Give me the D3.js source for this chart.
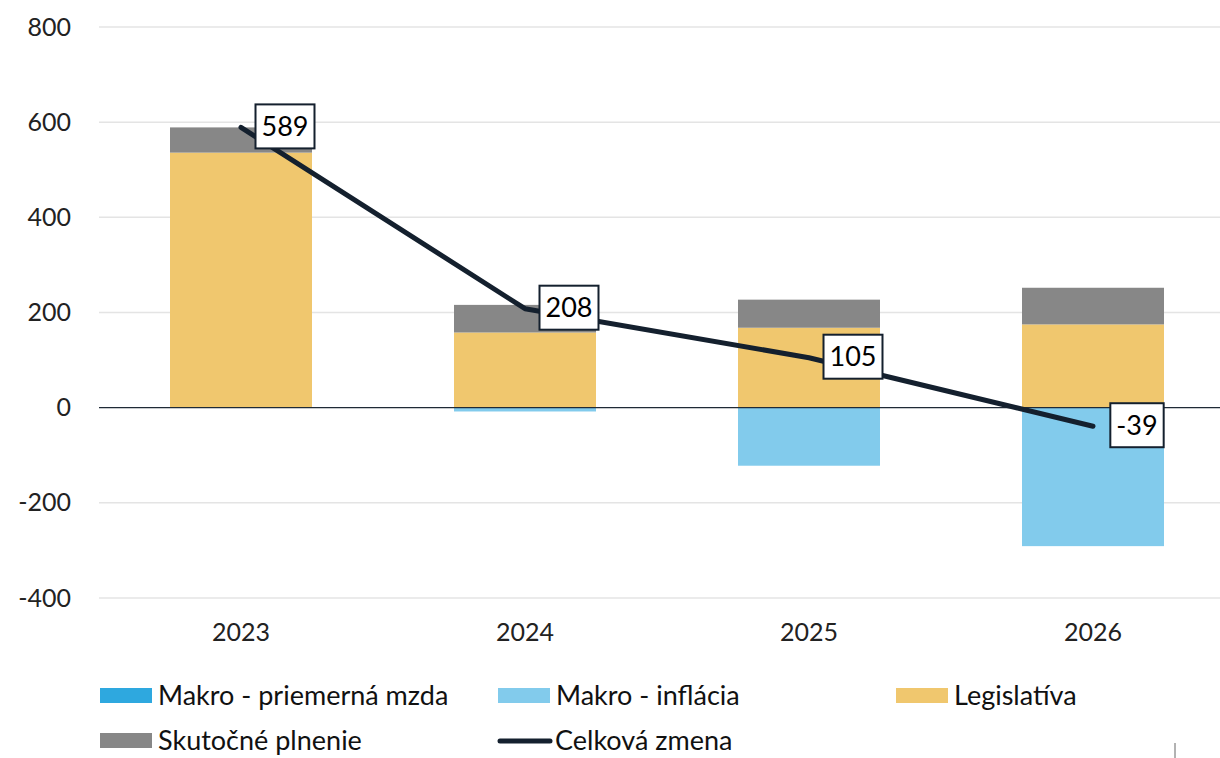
<!DOCTYPE html>
<html>
<head>
<meta charset="utf-8">
<script src="https://cdn.jsdelivr.net/npm/d3@7"></script>
<style>
  html, body { margin: 0; padding: 0; background: #fff; }
  svg { display: block; font-family: Lato, "Open Sans", sans-serif; }
</style>
</head>
<body>
<svg id="chart" width="1220" height="758"></svg>
<script>
// Categories and series
const years = ["2023", "2024", "2025", "2026"];
const makroMzda = [0, 0, 0, 0];
const makroInflacia = [0, -8, -122, -291];
const legislativa = [536, 158, 168, 175];
const skutocnePlnenie = [53, 58, 59, 77];
const celkovaZmena = [589, 208, 105, -39];
const yTicks = [-400, -200, 0, 200, 400, 600, 800];

const seriesKeys = ["Makro - priemerná mzda", "Makro - inflácia", "Legislatíva", "Skutočné plnenie"];
const seriesColors = ["#2EA8DF", "#82CBEC", "#F0C76E", "#878787"];
const lineLabel = "Celková zmena";
const lineColor = "#14202E";

const rows = years.map((y, i) => ({
  year: y,
  [seriesKeys[0]]: makroMzda[i],
  [seriesKeys[1]]: makroInflacia[i],
  [seriesKeys[2]]: legislativa[i],
  [seriesKeys[3]]: skutocnePlnenie[i]
}));

const svg = d3.select("#chart");
const plotLeft = 99, plotRight = 1220;

const x = d3.scaleBand().domain(years).range([99, 1235]).paddingInner(0.5).paddingOuter(0.25);
const y = d3.scaleLinear().domain([-400, 800]).range([598, 27]);

// Gridlines
svg.append("g").selectAll("line")
  .data(yTicks.filter(t => t !== 0))
  .join("line")
  .attr("x1", plotLeft).attr("x2", plotRight)
  .attr("y1", d => y(d)).attr("y2", d => y(d))
  .attr("stroke", "#E4E4E4").attr("stroke-width", 1.5);

// Y axis labels
const yAxis = d3.axisLeft(y).tickValues(yTicks).tickSize(0).tickPadding(0).tickFormat(d => String(d));
const yg = svg.append("g").attr("transform", "translate(71,0)").call(yAxis);
yg.select(".domain").remove();
yg.selectAll("text").attr("font-size", 25).attr("fill", "#222").attr("font-family", "Lato, sans-serif");

// Stacked bars
const stack = d3.stack().keys(seriesKeys).offset(d3.stackOffsetDiverging);
const stacked = stack(rows);
svg.append("g").selectAll("g")
  .data(stacked)
  .join("g")
  .attr("fill", (d, i) => seriesColors[i])
  .selectAll("rect")
  .data(d => d)
  .join("rect")
  .attr("x", d => x(d.data.year))
  .attr("width", x.bandwidth())
  .attr("y", d => y(Math.max(d[0], d[1])))
  .attr("height", d => Math.abs(y(d[0]) - y(d[1])));

// Zero line
svg.append("line")
  .attr("x1", plotLeft).attr("x2", plotRight)
  .attr("y1", y(0)).attr("y2", y(0))
  .attr("stroke", "#1F2A36").attr("stroke-width", 1.3);

// X axis labels
const xAxis = d3.axisBottom(x).tickSize(0).tickPadding(0);
const xg = svg.append("g").attr("transform", "translate(0,623)").call(xAxis);
xg.select(".domain").remove();
xg.selectAll("text").attr("font-size", 25).attr("fill", "#222").attr("font-family", "Lato, sans-serif");

// Total change line
const cx = d => x(d) + x.bandwidth() / 2;
const linePts = years.map((yr, i) => [cx(yr), y(celkovaZmena[i])]);
svg.append("path")
  .attr("d", d3.line()(linePts))
  .attr("fill", "none")
  .attr("stroke", lineColor)
  .attr("stroke-width", 5)
  .attr("stroke-linecap", "round")
  .attr("stroke-linejoin", "round");

// Value labels in boxes
const lbl = svg.append("g").selectAll("g")
  .data(linePts.map((p, i) => ({ p, v: celkovaZmena[i] })))
  .join("g")
  .attr("transform", d => `translate(${d.p[0] + 44},${d.p[1] - 1})`);
const boxes = lbl.append("rect")
  .attr("y", -22).attr("height", 44)
  .attr("fill", "#fff").attr("stroke", lineColor).attr("stroke-width", 2);
const texts = lbl.append("text")
  .attr("text-anchor", "middle").attr("dy", "0.36em")
  .attr("font-size", 27).attr("fill", "#000")
  .text(d => String(d.v));
texts.each(function (d) { d.w = this.getComputedTextLength(); });
boxes.attr("x", d => -(d.w / 2 + 6)).attr("width", d => d.w + 12);

// Legend
const legendItems = [
  { label: seriesKeys[0], color: seriesColors[0], type: "rect", lx: 100, ly: 696 },
  { label: seriesKeys[1], color: seriesColors[1], type: "rect", lx: 498, ly: 696 },
  { label: seriesKeys[2], color: seriesColors[2], type: "rect", lx: 896, ly: 696 },
  { label: seriesKeys[3], color: seriesColors[3], type: "rect", lx: 100, ly: 741 },
  { label: lineLabel, color: lineColor, type: "line", lx: 498, ly: 741 }
];
const lg = svg.append("g").selectAll("g").data(legendItems).join("g")
  .attr("transform", d => `translate(${d.lx},${d.ly})`);
lg.filter(d => d.type === "rect").append("rect")
  .attr("x", 0).attr("y", -8).attr("width", 52).attr("height", 15)
  .attr("fill", d => d.color);
lg.filter(d => d.type === "line").append("line")
  .attr("x1", 2).attr("x2", 52).attr("y1", 0).attr("y2", 0)
  .attr("stroke", d => d.color).attr("stroke-width", 5).attr("stroke-linecap", "round");
lg.append("text")
  .attr("x", d => d.type === "line" ? 57 : 58).attr("dy", "0.35em")
  .attr("font-size", 27).attr("fill", "#111")
  .text(d => d.label);

// Small tick mark at the bottom right
svg.append("line").attr("x1", 1175).attr("x2", 1175).attr("y1", 743).attr("y2", 758)
  .attr("stroke", "#666").attr("stroke-width", 1);
</script>
</body>
</html>
